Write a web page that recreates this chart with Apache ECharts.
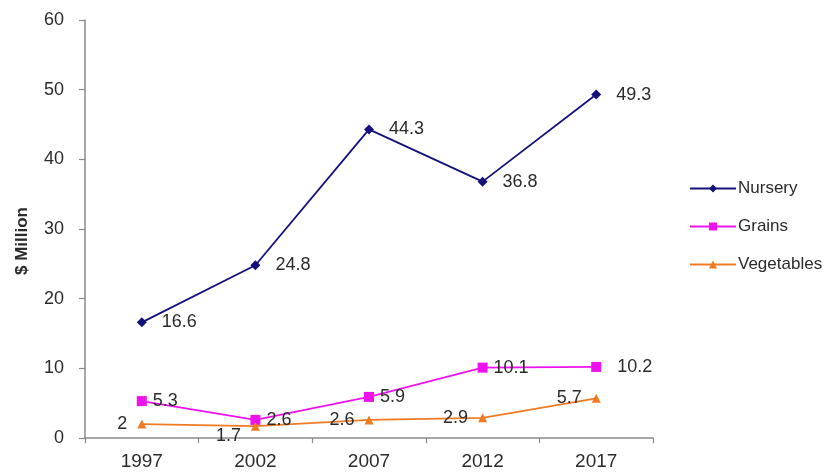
<!DOCTYPE html>
<html>
<head>
<meta charset="utf-8">
<script src="https://cdn.jsdelivr.net/npm/echarts@6/dist/echarts.min.js"></script>
<style>
  html, body { margin: 0; padding: 0; background: #fff; }
  #chart { width: 835px; height: 476px; }
</style>
</head>
<body>
<div id="chart"></div>
<script>
// Census years on the category axis
const years = ['1997', '2002', '2007', '2012', '2017'];

// Sales by crop group, $ million
const nursery = [16.6, 24.8, 44.3, 36.8, 49.3];
const grains = [5.3, 2.6, 5.9, 10.1, 10.2];
const vegetables = [2, 1.7, 2.6, 2.9, 5.7];

// Value axis ticks
const yMin = 0, yMax = 60, yStep = 10;

const font = 'Liberation Sans, Arial, sans-serif';
const textColor = '#2b2b2b';
const axisColor = '#8a8a8a';

function labelCfg(position, distance) {
  return {
    show: true,
    position: position,
    distance: distance,
    fontFamily: font,
    fontSize: 18,
    color: textColor
  };
}

// Per-point label tweaks so neighbouring labels do not collide
const grainsData = grains.map((v, i) =>
  i === grains.length - 1 ? { value: v, label: { distance: 16 } } : v);
const vegetablesData = vegetables.map((v, i) =>
  i === 1 ? { value: v, label: { offset: [0, 10] } } : v);

const chart = echarts.init(document.getElementById('chart'), null, { renderer: 'canvas' });
chart.setOption({
  animation: false,
  backgroundColor: '#ffffff',
  grid: { left: 85, right: 182, top: 20, bottom: 38, containLabel: false },
  legend: {
    orient: 'vertical',
    left: 684,
    top: 175,
    itemWidth: 46,
    itemHeight: 10,
    itemGap: 21,
    textStyle: { fontFamily: font, fontSize: 17, color: textColor, padding: [0, 0, 0, -3] },
    data: ['Nursery', 'Grains', 'Vegetables']
  },
  xAxis: {
    type: 'category',
    data: years,
    boundaryGap: true,
    axisLine: { lineStyle: { color: axisColor, width: 1.5 } },
    axisTick: { show: true, inside: false, length: 5, lineStyle: { color: axisColor, width: 1.2 } },
    axisLabel: { fontFamily: font, fontSize: 19, color: textColor, margin: 14 },
    splitLine: { show: false }
  },
  yAxis: {
    type: 'value',
    min: yMin,
    max: yMax,
    interval: yStep,
    name: '$ Million',
    nameLocation: 'middle',
    nameGap: 54,
    nameRotate: 90,
    nameTextStyle: {
      fontFamily: font, fontSize: 17, fontWeight: 'bold', color: textColor,
      padding: [0, 24, 0, 0]
    },
    axisLine: { show: true, lineStyle: { color: axisColor, width: 1.5 } },
    axisTick: { show: true, length: 6, lineStyle: { color: axisColor, width: 1.2 } },
    axisLabel: { fontFamily: font, fontSize: 18, color: textColor, margin: 21 },
    splitLine: { show: false }
  },
  series: [
    {
      name: 'Nursery',
      type: 'line',
      data: nursery,
      symbol: 'diamond',
      symbolSize: 10,
      color: '#14127a',
      lineStyle: { width: 1.8, color: '#14127a' },
      label: labelCfg('right', 15)
    },
    {
      name: 'Grains',
      type: 'line',
      data: grainsData,
      symbol: 'rect',
      symbolSize: 10,
      color: '#ee12ee',
      lineStyle: { width: 1.8, color: '#ee12ee' },
      label: labelCfg('right', 6)
    },
    {
      name: 'Vegetables',
      type: 'line',
      data: vegetablesData,
      symbol: 'triangle',
      symbolSize: 9,
      color: '#f07a22',
      lineStyle: { width: 1.8, color: '#f07a22' },
      label: labelCfg('left', 10)
    }
  ]
});
</script>
</body>
</html>
